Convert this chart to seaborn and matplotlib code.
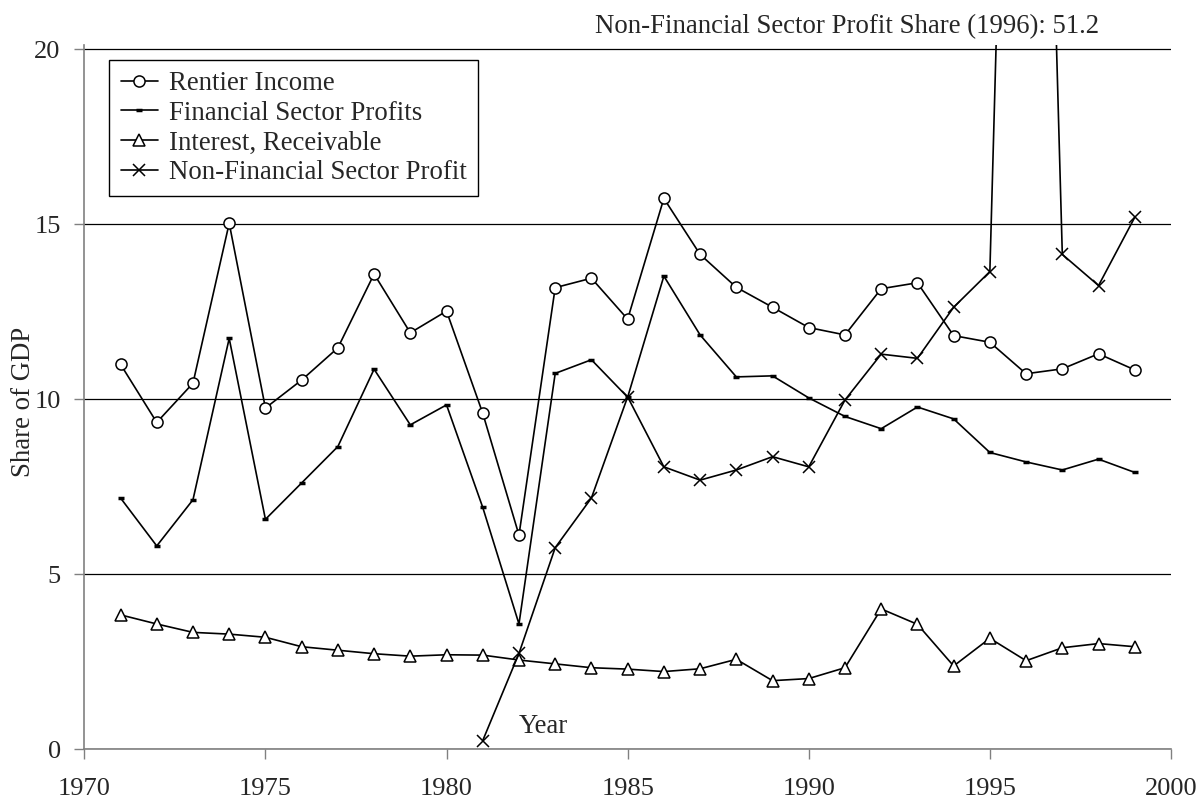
import matplotlib
matplotlib.use('Agg')
import matplotlib.pyplot as plt
import seaborn as sns
import pandas as pd

sns.set_style('white')
plt.rcParams['font.family'] = ['Liberation Serif', 'DejaVu Serif']
plt.rcParams['font.size'] = 19.3

years = list(range(1971, 2000))
rentier = [11.0, 9.34, 10.46, 15.03, 9.75, 10.55, 11.47, 13.58, 11.9, 12.52,
           9.6, 6.12, 13.19, 13.46, 12.29, 15.74, 14.14, 13.2, 12.63, 12.05,
           11.84, 13.16, 13.33, 11.82, 11.63, 10.73, 10.87, 11.3, 10.84]
fin_profits = [7.18, 5.81, 7.13, 11.74, 6.57, 7.61, 8.65, 10.86, 9.27, 9.84,
               6.91, 3.58, 10.74, 11.13, 10.06, 13.52, 11.84, 10.64, 10.67, 10.04,
               9.51, 9.16, 9.78, 9.44, 8.48, 8.21, 7.98, 8.29, 7.91]
interest = [3.84, 3.58, 3.34, 3.29, 3.2, 2.93, 2.83, 2.73, 2.66, 2.7,
            2.69, 2.55, 2.44, 2.33, 2.29, 2.22, 2.30, 2.57, 1.96, 2.02,
            2.33, 4.01, 3.57, 2.38, 3.17, 2.53, 2.9, 3.02, 2.93]
nf_years = list(range(1981, 2000))
nf_profit = [0.25, 2.74, 5.76, 7.18, 10.07, 8.07, 7.69, 7.98, 8.36, 8.07,
             9.98, 11.29, 11.17, 12.63, 13.65, 51.2, 14.14, 13.25, 15.2]

df = pd.DataFrame({'Year': years, 'Rentier': rentier, 'Fin': fin_profits, 'Interest': interest})
nf = pd.DataFrame({'Year': nf_years, 'NF': nf_profit})

fig = plt.figure(figsize=(12.01, 8.06), dpi=100)
ax = fig.add_axes([0.0702, 0.0704, 0.9048, 0.8736])

common = dict(color='black', linewidth=1.2, ax=ax)
sns.lineplot(data=df, x='Year', y='Rentier', marker='o', markersize=8, mfc='white', mec='black',
             mew=1.1, label='Rentier Income', **common)
sns.lineplot(data=df, x='Year', y='Fin', marker='_', markersize=5, mew=2.5, mec='black',
             label='Financial Sector Profits', **common)
sns.lineplot(data=df, x='Year', y='Interest', marker='^', markersize=8, mfc='white', mec='black',
             mew=1.1, label='Interest, Receivable', **common)
sns.lineplot(data=nf, x='Year', y='NF', marker='x', markersize=9, mec='black', mew=1.1,
             label='Non-Financial Sector Profit', **common)

ax.set_xlim(1970, 2000)
ax.set_ylim(0, 20.12)
ax.set_xticks(range(1970, 2001, 5))
ax.set_yticks(range(0, 21, 5))
ax.yaxis.grid(True, color='black', linewidth=0.9)
ax.xaxis.grid(False)
for s in ['top', 'right']:
    ax.spines[s].set_visible(False)
for s in ['left', 'bottom']:
    ax.spines[s].set_color('#808080')
    ax.spines[s].set_linewidth(1.2)
ax.tick_params(axis='x', direction='out', length=7, width=1, color='#808080', pad=14, labelsize=19, bottom=True)
ax.tick_params(axis='y', direction='out', length=7, width=1, color='#808080', pad=10, labelsize=19, left=True)

ax.set_ylabel('Share of GDP', fontsize=19.3)
ax.yaxis.set_label_coords(-0.0445, 0.493)
ax.set_xlabel('Year', fontsize=19.3, va='center')
ax.xaxis.set_label_coords(0.422, 0.032)

ax.text(0.7018, 1.0265, 'Non-Financial Sector Profit Share (1996): 51.2', transform=ax.transAxes,
        ha='center', va='center', fontsize=19.3, zorder=10,
        bbox=dict(facecolor='white', edgecolor='none', pad=2))

leg = ax.legend(loc='upper left', bbox_to_anchor=(0.023, 0.9788), borderaxespad=0,
                frameon=True, fancybox=False, framealpha=1, edgecolor='black',
                handlelength=1.4, handletextpad=0.4, labelspacing=0.17, fontsize=19.3, borderpad=0.42)
leg.get_frame().set_linewidth(1)

fig.savefig('out.png', dpi=100)
